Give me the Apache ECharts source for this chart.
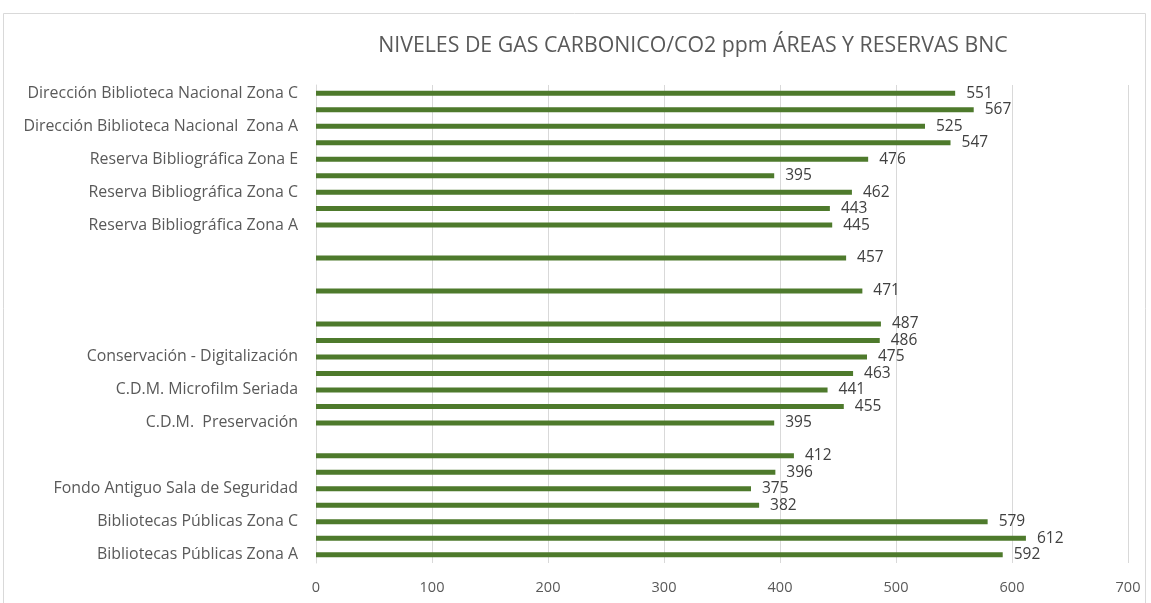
<!DOCTYPE html>
<html>
<head>
<meta charset="utf-8">
<script src="https://cdn.jsdelivr.net/npm/echarts@6/dist/echarts.min.js"></script>
<style>
html,body{margin:0;padding:0;background:#fff;}
#c{width:1151px;height:603px;}
</style>
</head>
<body>
<div id="c"></div>
<script>
// Categories from bottom to top (empty strings = unlabeled slots)
const categories = [
  "Bibliotecas Públicas Zona A",
  "Bibliotecas Públicas Zona B",
  "Bibliotecas Públicas Zona C",
  "",
  "Fondo Antiguo Sala de Seguridad",
  "",
  "",
  "",
  "C.D.M.  Preservación",
  "",
  "C.D.M. Microfilm Seriada",
  "",
  "Conservación - Digitalización",
  "",
  "",
  "",
  "",
  "",
  "",
  "",
  "Reserva Bibliográfica Zona A",
  "Reserva Bibliográfica Zona B",
  "Reserva Bibliográfica Zona C",
  "Reserva Bibliográfica Zona D",
  "Reserva Bibliográfica Zona E",
  "",
  "Dirección Biblioteca Nacional  Zona A",
  "Dirección Biblioteca Nacional Zona B",
  "Dirección Biblioteca Nacional Zona C"
];
const co2Values = [
  592, 612, 579, 382, 375, 396, 412, null,
  395, 455, 441, 463, 475, 486, 487, null,
  471, null, 457, null,
  445, 443, 462, 395, 476, 547, 525, 567, 551
];
const xTicks = { min: 0, max: 700, interval: 100 };
const titleText = "NIVELES DE GAS CARBONICO/CO2 ppm ÁREAS Y RESERVAS BNC";

const chart = echarts.init(document.getElementById('c'));
chart.setOption({
  animation: false,
  backgroundColor: '#ffffff',
  title: {
    text: titleText,
    left: 688, top: 30,
    textAlign: 'center',
    textStyle: { fontFamily: 'Open Sans', fontSize: 21.3, fontWeight: 'normal', color: '#595959' }
  },
  graphic: [{
    type: 'rect',
    shape: { x: 3.5, y: 13.5, width: 1142, height: 620 },
    style: { fill: 'none', stroke: '#d9d9d9', lineWidth: 1 },
    silent: true, z: -1
  }],
  grid: { left: 316, right: 23, top: 85, bottom: 40, containLabel: false },
  xAxis: {
    type: 'value',
    min: xTicks.min, max: xTicks.max, interval: xTicks.interval,
    axisLine: { show: false },
    axisTick: { show: false },
    splitLine: { show: true, lineStyle: { color: '#d9d9d9', width: 1 } },
    axisLabel: { color: '#595959', fontFamily: 'Open Sans', fontSize: 14.5, margin: 17 }
  },
  yAxis: {
    type: 'category',
    data: categories,
    axisLine: { show: true, lineStyle: { color: '#d9d9d9' } },
    axisTick: { show: false },
    axisLabel: { interval: 1, color: '#595959', fontFamily: 'Open Sans', fontSize: 15.9, margin: 18 }
  },
  series: [{
    type: 'bar',
    data: co2Values,
    barWidth: 5,
    itemStyle: { color: '#4e7a2c' },
    label: {
      show: true, position: 'right', distance: 11,
      color: '#404040', fontFamily: 'Open Sans', fontSize: 15.5
    }
  }]
});
</script>
</body>
</html>
